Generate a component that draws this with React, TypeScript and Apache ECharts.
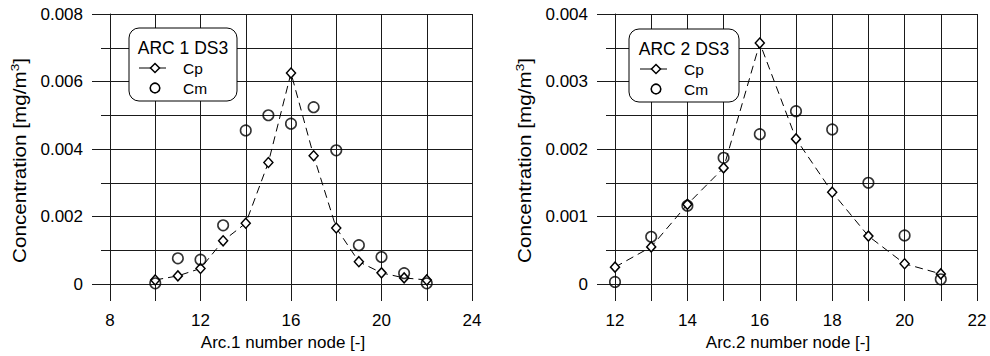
import React, { useEffect, useRef } from "react";
import * as echarts from "echarts";

// ---- data ----
const arc1Nodes = [10, 11, 12, 13, 14, 15, 16, 17, 18, 19, 20, 21, 22];
const arc1Cp = [0.00012, 0.00024, 0.00046, 0.00128, 0.0018, 0.0036, 0.00625, 0.0038, 0.00166, 0.00066, 0.00033, 0.00018, 0.00012];
const arc1Cm = [0.00002, 0.00076, 0.00072, 0.00174, 0.00455, 0.005, 0.00475, 0.00524, 0.00396, 0.00115, 0.0008, 0.00032, 0.00002];

const arc2Nodes = [12, 13, 14, 15, 16, 17, 18, 19, 20, 21];
const arc2Cp = [0.00025, 0.00055, 0.00118, 0.00172, 0.00357, 0.00215, 0.00136, 0.00071, 0.0003, 0.00015];
const arc2Cm = [0.00003, 0.0007, 0.00116, 0.00187, 0.00222, 0.00256, 0.00229, 0.0015, 0.00072, 0.00007];

const legendTitles = ["ARC 1 DS3", "ARC 2 DS3"];
const seriesNames = ["Cp", "Cm"];
const xTitles = ["Arc.1 number node [-]", "Arc.2 number node [-]"];
const yTitle = "{a|Concentration [mg/m}{s|3}{a|]}";

const FONT = '"Liberation Sans", Arial, Helvetica, sans-serif';
const GRID_COLOR = "#1a1a1a";

const zip = (xs: number[], ys: number[]) => xs.map((x, i) => [x, ys[i]]);

function xAxisCfg(gridIndex: number, min: number, max: number, interval: number, name: string) {
  return {
    type: "value",
    gridIndex,
    min,
    max,
    interval,
    name,
    nameLocation: "middle",
    nameGap: 46,
    nameTextStyle: { fontFamily: FONT, fontSize: 17, color: "#000", padding: [0, 16, 0, 0] },
    axisLine: { show: false },
    axisTick: { show: true, length: 17, lineStyle: { color: GRID_COLOR, width: 1 } },
    minorTick: { show: true, splitNumber: 2, length: 17, lineStyle: { color: GRID_COLOR, width: 1 } },
    splitLine: { show: true, lineStyle: { color: GRID_COLOR, width: 1 } },
    minorSplitLine: { show: true, lineStyle: { color: GRID_COLOR, width: 1 } },
    axisLabel: { fontFamily: FONT, fontSize: 17, color: "#000", margin: 28 },
  };
}

function yAxisCfg(gridIndex: number, max: number, interval: number) {
  return {
    type: "value",
    gridIndex,
    min: 0,
    max,
    interval,
    axisLine: { show: true, lineStyle: { color: GRID_COLOR, width: 1 } },
    axisTick: { show: true, length: 18, lineStyle: { color: GRID_COLOR, width: 1 } },
    minorTick: { show: true, splitNumber: 2, length: 9, lineStyle: { color: GRID_COLOR, width: 1 } },
    splitLine: { show: true, lineStyle: { color: GRID_COLOR, width: 1 } },
    minorSplitLine: { show: true, lineStyle: { color: GRID_COLOR, width: 1 } },
    axisLabel: { fontFamily: FONT, fontSize: 17, color: "#000", margin: 27 },
  };
}

function yTitleText(cx: number, cy: number) {
  return {
    type: "text",
    x: cx,
    y: cy,
    rotation: Math.PI / 2,
    scaleX: 1.18,
    z: 50,
    style: {
      text: yTitle,
      align: "center",
      verticalAlign: "middle",
      rich: {
        a: { fontFamily: FONT, fontSize: 17.5, fill: "#000", lineHeight: 21 },
        s: { fontFamily: FONT, fontSize: 11.5, fill: "#000", lineHeight: 12, verticalAlign: "top" },
      },
    },
  };
}

function cpSeries(idx: number, xs: number[], ys: number[]) {
  return {
    name: seriesNames[0],
    type: "line",
    xAxisIndex: idx,
    yAxisIndex: idx,
    data: zip(xs, ys),
    symbol: "diamond",
    symbolSize: [9, 10],
    showAllSymbol: true,
    itemStyle: { color: "#fff", borderColor: "#000", borderWidth: 1.5 },
    lineStyle: { color: "#000", width: 1, type: [8, 5] },
    silent: true,
    z: 3,
  };
}

function cmSeries(idx: number, xs: number[], ys: number[]) {
  return {
    name: seriesNames[1],
    type: "scatter",
    xAxisIndex: idx,
    yAxisIndex: idx,
    data: zip(xs, ys),
    symbol: "circle",
    symbolSize: 10.5,
    itemStyle: { color: "rgba(0,0,0,0)", borderColor: "#000", borderWidth: 1.6 },
    silent: true,
    z: 4,
  };
}

function legendBox(x: number, y: number, w: number, h: number, title: string, titleCx: number, mx: number, tx: number) {
  const Z = 100;
  return {
    type: "group",
    z: Z,
    children: [
      {
        type: "rect",
        z: Z,
        shape: { x, y, width: w, height: h, r: 10 },
        style: { fill: "#fff", stroke: "#000", lineWidth: 1 },
      },
      {
        type: "text",
        z: Z + 1,
        x: titleCx,
        y: y + 20,
        style: { text: title, fontFamily: FONT, fontSize: 17.5, fill: "#000", align: "center", verticalAlign: "middle" },
      },
      {
        type: "line",
        z: Z + 1,
        shape: { x1: mx - 16, y1: y + 40, x2: mx + 11, y2: y + 40 },
        style: { stroke: "#000", lineWidth: 1 },
      },
      {
        type: "polygon",
        z: Z + 2,
        shape: { points: [[mx, y + 35.5], [mx + 4.5, y + 40], [mx, y + 44.5], [mx - 4.5, y + 40]] },
        style: { fill: "#fff", stroke: "#000", lineWidth: 1.5 },
      },
      {
        type: "text",
        z: Z + 1,
        x: tx,
        y: y + 40,
        style: { text: seriesNames[0], fontFamily: FONT, fontSize: 15.5, fill: "#000", align: "left", verticalAlign: "middle" },
      },
      {
        type: "circle",
        z: Z + 1,
        shape: { cx: mx, cy: y + 60, r: 4.8 },
        style: { fill: "#fff", stroke: "#000", lineWidth: 1.6 },
      },
      {
        type: "text",
        z: Z + 1,
        x: tx,
        y: y + 60,
        style: { text: seriesNames[1], fontFamily: FONT, fontSize: 15.5, fill: "#000", align: "left", verticalAlign: "middle" },
      },
    ],
  };
}

export default function App() {
  const ref = useRef<HTMLDivElement>(null);

  useEffect(() => {
    if (!ref.current) return;
    const chart = echarts.init(ref.current, null, { renderer: "svg" });
    chart.setOption({
      animation: false,
      backgroundColor: "#fff",
      grid: [
        { left: 110, top: 14, width: 362, height: 270 },
        { left: 615, top: 14, width: 362, height: 270 },
      ],
      xAxis: [xAxisCfg(0, 8, 24, 4, xTitles[0]), xAxisCfg(1, 12, 22, 2, xTitles[1])],
      yAxis: [yAxisCfg(0, 0.008, 0.002), yAxisCfg(1, 0.004, 0.001)],
      series: [
        cpSeries(0, arc1Nodes, arc1Cp),
        cmSeries(0, arc1Nodes, arc1Cm),
        cpSeries(1, arc2Nodes, arc2Cp),
        cmSeries(1, arc2Nodes, arc2Cm),
      ],
      graphic: [
        yTitleText(20, 160.5),
        yTitleText(525, 160.5),
        legendBox(129, 28, 108, 73, legendTitles[0], 183, 155, 183),
        legendBox(629, 29, 110, 73, legendTitles[1], 684, 656, 684),
      ],
    });
    return () => chart.dispose();
  }, []);

  return (
    <div
      ref={ref}
      style={{ position: "fixed", left: 0, top: 0, width: 990, height: 356, background: "#fff" }}
    />
  );
}
